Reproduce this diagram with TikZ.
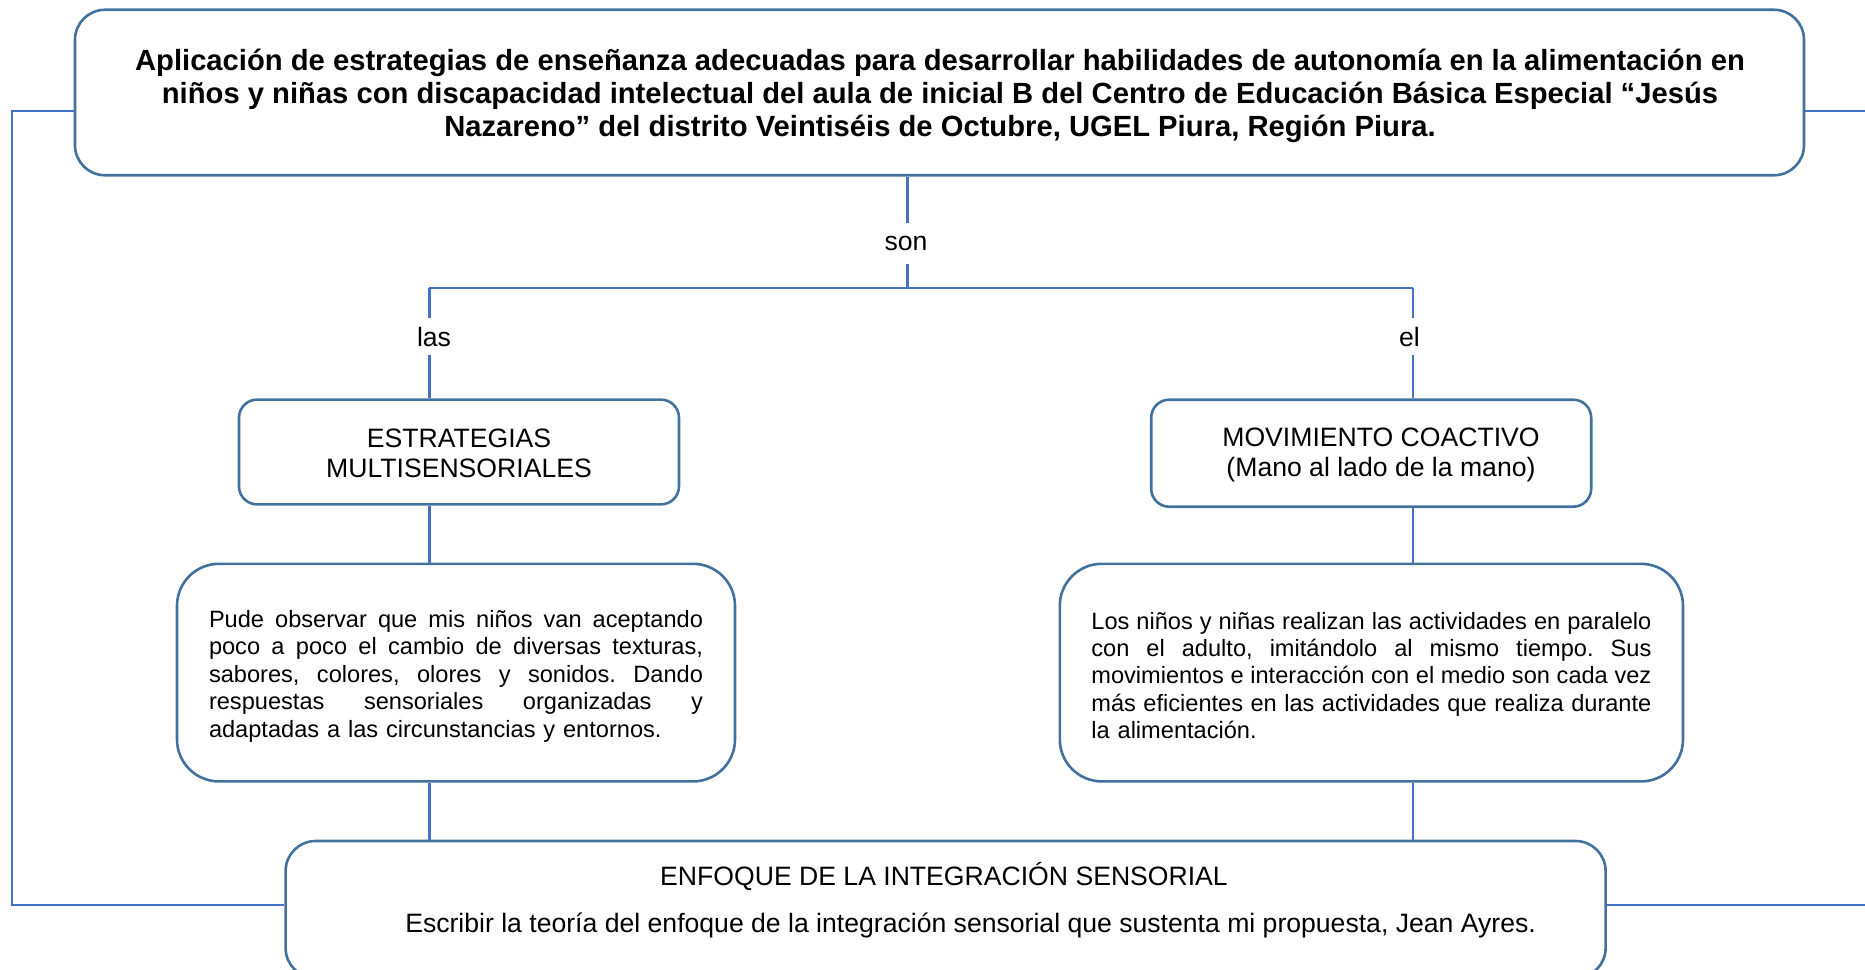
\documentclass[tikz,border=0pt]{standalone}
\usepackage{fontspec}
\setmainfont{Liberation Sans}
\frenchspacing
\definecolor{boxc}{RGB}{65,113,156}
\definecolor{linec}{RGB}{68,114,196}
\newcommand{\bodyfont}{\fontsize{11.8}{13.7}\selectfont}
\newcommand{\labfont}{\fontsize{13.3}{14.9}\selectfont}
\newcommand{\ttlfont}{\fontsize{14.6}{16.6}\selectfont\bfseries}
\newcommand{\jline}[2]{\leavevmode\hbox to #1{\spaceskip=0.278em plus 1fil\xspaceskip=\spaceskip #2}}
\tikzset{
  conn/.style={draw=linec, line width=1.1pt},
  framebox/.style={draw=boxc, line width=1.3pt, fill=white, inner sep=0pt},
  lab/.style={inner sep=0pt, font=\labfont, align=center},
}
\begin{document}
\begin{tikzpicture}[x=0.5pt,y=-0.5pt]
\useasboundingbox (0,0) rectangle (1865,970);
\clip (0,0) rectangle (1865,970);

% coordinates for connector corners
\coordinate (jn) at (907.5,288);
\coordinate (jl) at (429.4,288);
\coordinate (jr) at (1413,288);
\coordinate (tlc) at (12,110.6);
\coordinate (blc) at (12,905);
\coordinate (trc) at (1875,110.6);
\coordinate (brc) at (1875,905);

% boxes
\node[framebox, rounded corners=15pt, minimum width=864.5pt, minimum height=82.75pt] (top) at (939.5,92.5) {};
\node[inner sep=0pt, font=\ttlfont, align=center] (toptxt) at (940,95.8)
  {Aplicación de estrategias de enseñanza adecuadas para desarrollar habilidades de autonomía en la alimentación en\\
   niños y niñas con discapacidad intelectual del aula de inicial B del Centro de Educación Básica Especial “Jesús\\
   Nazareno” del distrito Veintiséis de Octubre, UGEL Piura, Región Piura.};

\node[framebox, rounded corners=9pt, minimum width=220pt, minimum height=52.35pt] (est) at (459,452) {};
\node[lab] (estt) at (459,453.5) {ESTRATEGIAS\\MULTISENSORIALES};

\node[framebox, rounded corners=9pt, minimum width=220pt, minimum height=53.5pt] (mov) at (1371.2,453.2) {};
\node[lab] (movt) at (1381,455) {MOVIMIENTO COACTIVO\\(Mano al lado de la mano)};

\node[framebox, rounded corners=21pt, minimum width=279pt, minimum height=108.8pt] (lt) at (456,672.6) {};
\node[inner sep=0pt, font=\bodyfont, text width=247pt, align=left] (ltt) at (456,676.2)
  {\jline{247pt}{Pude observar que mis niños van aceptando}\\
   \jline{247pt}{poco a poco el cambio de diversas texturas,}\\
   \jline{247pt}{sabores, colores, olores y sonidos. Dando}\\
   \jline{247pt}{respuestas sensoriales organizadas y}\\
   adaptadas a las circunstancias y entornos.};

\node[framebox, rounded corners=21pt, minimum width=311.6pt, minimum height=108.8pt] (rt) at (1371.4,672.6) {};
\node[inner sep=0pt, font=\bodyfont, text width=280pt, align=left] (rtt) at (1371.4,675.5)
  {\jline{280pt}{Los niños y niñas realizan las actividades en paralelo}\\
   \jline{280pt}{con el adulto, imitándolo al mismo tiempo. Sus}\\
   \jline{280pt}{movimientos e interacción con el medio son cada vez}\\
   \jline{280pt}{más eficientes en las actividades que realiza durante}\\
   la alimentación.};

\node[framebox, rounded corners=15pt, minimum width=660pt, minimum height=68.5pt] (bot) at (945.6,909.5) {};
\node[lab] (ent) at (944,876.5) {ENFOQUE DE LA INTEGRACIÓN SENSORIAL};
\node[lab] (esc) at (970.6,925.4) {Escribir la teoría del enfoque de la integración sensorial que sustenta mi propuesta, Jean Ayres.};

% connector labels
\node[lab, minimum height=20.2pt] (son) at (906,243.8) {son};
\node[lab, minimum height=17.8pt] (las) at (434,336.6) {las};
\node[lab, minimum height=17.8pt] (el) at (1409.5,336.6) {el};

% connectors
\draw[conn] (top.south -| jn) -- (jn |- son.north);
\draw[conn] (jn |- son.south) -- (jn);
\draw[conn] (jl) -- (jr);
\draw[conn] (jl) -- (jl |- las.north);
\draw[conn] (jl |- las.south) -- (jl |- est.north);
\draw[conn] (jr) -- (jr |- el.north);
\draw[conn] (jr |- el.south) -- (jr |- mov.north);
\draw[conn] (jl |- est.south) -- (jl |- lt.north);
\draw[conn] (jr |- mov.south) -- (jr |- rt.north);
\draw[conn] (jl |- lt.south) -- (jl |- bot.north);
\draw[conn] (jr |- rt.south) -- (jr |- bot.north);
\draw[conn] (top.west |- tlc) -- (tlc) -- (blc) -- (bot.west |- blc);
\draw[conn] (top.east |- trc) -- (trc);
\draw[conn] (bot.east |- brc) -- (brc);
\end{tikzpicture}
\end{document}
